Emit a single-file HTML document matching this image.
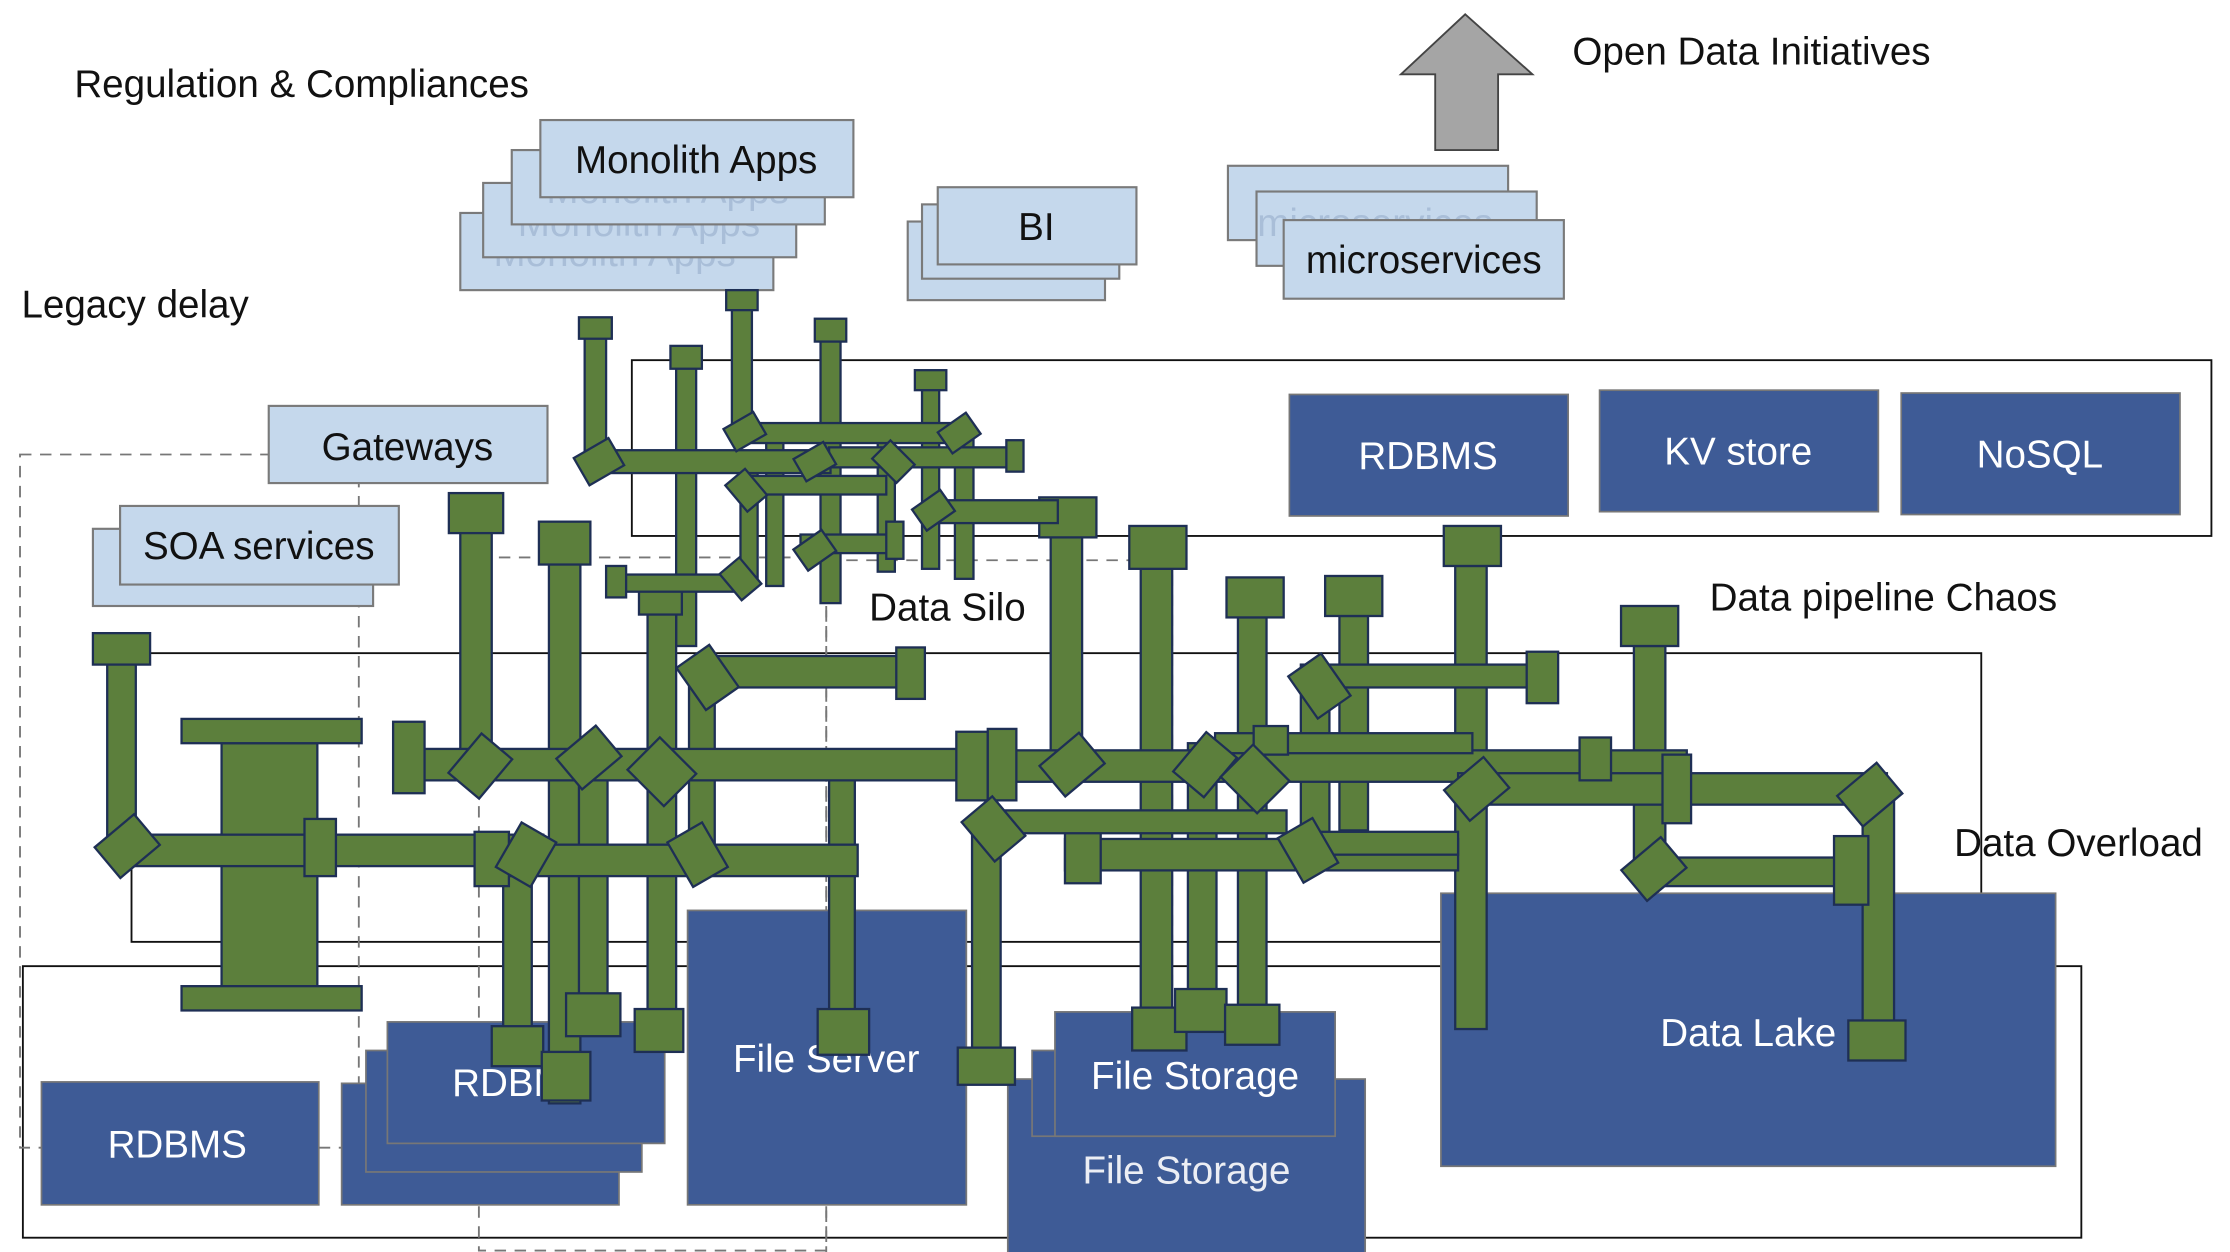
<!DOCTYPE html>
<html><head><meta charset="utf-8"><style>
html,body{margin:0;padding:0;background:#fff;}
svg{display:block;}
text{font-family:"Liberation Sans Narrow","Liberation Sans",sans-serif;}
.lb{fill:#c5d8ec;stroke:#7a7a7a;stroke-width:1.5;}
.db{fill:#3e5b96;stroke:#777;stroke-width:1.2;}
.g{fill:#5c7f3c;stroke:#1e2f55;stroke-width:1.6;}
.o{fill:none;stroke:#111;stroke-width:1.3;}
.d{fill:none;stroke:#777;stroke-width:1.3;stroke-dasharray:8 6;}
.t{font-size:27px;fill:#111;}
.w{font-size:27px;fill:#fff;}
.f{font-size:27px;fill:#8ea6c6;opacity:.5;}
</style></head><body>
<svg width="2230" height="1252" viewBox="0 0 1560 876" preserveAspectRatio="none" xmlns="http://www.w3.org/2000/svg">
<!-- labels -->
<text class="t" x="52" y="68">Regulation &amp; Compliances</text>
<text class="t" x="15" y="222">Legacy delay</text>
<text class="t" x="1100" y="45">Open Data Initiatives</text>
<!-- arrow -->
<polygon points="1025,10 1072,52 1048,52 1048,105 1004,105 1004,52 980,52" fill="#a5a5a5" stroke="#444" stroke-width="1.3"/>

<!-- outlined containers -->
<rect class="o" x="442" y="252" width="1105" height="123"/>
<rect class="o" x="92" y="457" width="1294" height="202"/>
<rect class="o" x="16" y="676" width="1440" height="190"/>
<rect class="d" x="14" y="318" width="237" height="485"/>
<rect class="d" x="335" y="390" width="243" height="485"/>
<rect class="d" x="578" y="392" width="242" height="485"/>

<!-- DB row -->
<rect class="db" x="902" y="276" width="195" height="85"/><text class="w" x="999" y="328" text-anchor="middle">RDBMS</text>
<rect class="db" x="1119" y="273" width="195" height="85"/><text class="w" x="1216" y="325" text-anchor="middle">KV store</text>
<rect class="db" x="1330" y="275" width="195" height="85"/><text class="w" x="1427" y="327" text-anchor="middle">NoSQL</text>

<!-- bottom DBs -->
<rect class="db" x="29" y="757" width="194" height="86"/><text class="w" x="124" y="810" text-anchor="middle">RDBMS</text>
<rect class="db" x="239" y="758" width="194" height="85"/>
<rect class="db" x="256" y="735" width="193" height="85"/>
<rect class="db" x="271" y="715" width="194" height="85"/><text class="w" x="365" y="767" text-anchor="middle">RDBMS</text>
<rect class="db" x="481" y="637" width="195" height="206"/><text class="w" x="578" y="750" text-anchor="middle">File Server</text>
<rect class="db" x="705" y="755" width="250" height="125"/><text class="w" x="830" y="828" text-anchor="middle" opacity=".9">File Storage</text>
<rect class="db" x="722" y="735" width="195" height="60"/>
<rect class="db" x="738" y="708" width="196" height="87"/><text class="w" x="836" y="762" text-anchor="middle">File Storage</text>
<rect class="db" x="1008" y="625" width="430" height="191"/><text class="w" x="1223" y="732" text-anchor="middle">Data Lake</text>

<!-- light blue app boxes -->
<rect class="lb" x="322" y="149" width="219" height="54"/><text class="f" x="430" y="186" text-anchor="middle">Monolith Apps</text>
<rect class="lb" x="338" y="128" width="219" height="52"/><text class="f" x="447" y="165" text-anchor="middle">Monolith Apps</text>
<rect class="lb" x="358" y="105" width="219" height="52"/><text class="f" x="467" y="142" text-anchor="middle">Monolith Apps</text>
<rect class="lb" x="378" y="84" width="219" height="54"/><text class="t" x="487" y="121" text-anchor="middle">Monolith Apps</text>
<rect class="lb" x="635" y="155" width="138" height="55"/>
<rect class="lb" x="645" y="143" width="138" height="52"/>
<rect class="lb" x="656" y="131" width="139" height="54"/><text class="t" x="725" y="168" text-anchor="middle">BI</text>
<rect class="lb" x="859" y="116" width="196" height="52"/>
<rect class="lb" x="879" y="134" width="196" height="52"/><text class="f" x="962" y="165" text-anchor="middle">microservices</text>
<rect class="lb" x="898" y="154" width="196" height="55"/><text class="t" x="996" y="191" text-anchor="middle">microservices</text>
<rect class="lb" x="188" y="284" width="195" height="54"/><text class="t" x="285" y="322" text-anchor="middle">Gateways</text>
<rect class="lb" x="65" y="370" width="196" height="54"/>
<rect class="lb" x="84" y="354" width="195" height="55"/><text class="t" x="181" y="391" text-anchor="middle">SOA services</text>

<!-- pipes: verticals -->
<g>
<rect class="g" x="409" y="232" width="15" height="92"/><rect class="g" x="405" y="222" width="23" height="15"/>
<rect class="g" x="473" y="252" width="14" height="200"/><rect class="g" x="469" y="242" width="22" height="16"/>
<rect class="g" x="512" y="212" width="14" height="90"/><rect class="g" x="508" y="203" width="22" height="14"/>
<rect class="g" x="574" y="232" width="14" height="190"/><rect class="g" x="570" y="223" width="22" height="16"/>
<rect class="g" x="645" y="268" width="12" height="130"/><rect class="g" x="640" y="259" width="22" height="14"/>
<rect class="g" x="536" y="300" width="12" height="110"/>
<rect class="g" x="614" y="300" width="12" height="100"/>
<rect class="g" x="518" y="330" width="12" height="80"/>
<rect class="g" x="668" y="300" width="13" height="105"/>
<rect class="g" x="322" y="370" width="22" height="170"/><rect class="g" x="314" y="345" width="38" height="28"/>
<rect class="g" x="384" y="392" width="22" height="380"/><rect class="g" x="377" y="365" width="36" height="30"/>
<rect class="g" x="75" y="462" width="20" height="135"/><rect class="g" x="65" y="443" width="40" height="22"/>
<rect class="g" x="155" y="520" width="67" height="170"/>
<rect class="g" x="127" y="503" width="126" height="17"/><rect class="g" x="127" y="690" width="126" height="17"/>
<rect class="g" x="453" y="428" width="20" height="290"/><rect class="g" x="447" y="405" width="30" height="25"/>
<rect class="g" x="482" y="470" width="18" height="120"/>
<rect class="g" x="405" y="520" width="20" height="180"/><rect class="g" x="396" y="695" width="38" height="30"/>
<rect class="g" x="352" y="600" width="20" height="120"/><rect class="g" x="344" y="718" width="36" height="28"/>
<rect class="g" x="379" y="736" width="34" height="34"/>
<rect class="g" x="444" y="706" width="34" height="30"/>
<rect class="g" x="580" y="530" width="18" height="180"/><rect class="g" x="572" y="706" width="36" height="32"/>
<rect class="g" x="680" y="570" width="20" height="165"/><rect class="g" x="670" y="733" width="40" height="26"/>
<rect class="g" x="735" y="375" width="22" height="165"/><rect class="g" x="727" y="348" width="40" height="28"/>
<rect class="g" x="798" y="398" width="22" height="310"/><rect class="g" x="790" y="368" width="40" height="30"/><rect class="g" x="792" y="705" width="38" height="30"/>
<rect class="g" x="831" y="520" width="20" height="175"/><rect class="g" x="822" y="692" width="36" height="30"/>
<rect class="g" x="866" y="432" width="20" height="272"/><rect class="g" x="858" y="404" width="40" height="28"/><rect class="g" x="857" y="703" width="38" height="28"/>
<rect class="g" x="937" y="431" width="20" height="150"/><rect class="g" x="927" y="403" width="40" height="28"/>
<rect class="g" x="910" y="470" width="20" height="135"/>
<rect class="g" x="1018" y="396" width="22" height="324"/><rect class="g" x="1010" y="368" width="40" height="28"/>
<rect class="g" x="1143" y="452" width="22" height="160"/><rect class="g" x="1134" y="424" width="40" height="28"/>
<rect class="g" x="1303" y="560" width="22" height="160"/><rect class="g" x="1293" y="714" width="40" height="28"/>
</g>
<!-- pipes: horizontals -->
<g>
<rect class="g" x="416" y="315" width="165" height="16"/>
<rect class="g" x="519" y="296" width="152" height="14"/>
<rect class="g" x="520" y="333" width="100" height="13"/>
<rect class="g" x="580" y="313" width="130" height="14"/><rect class="g" x="704" y="308" width="12" height="22"/>
<rect class="g" x="650" y="350" width="90" height="16"/>
<rect class="g" x="430" y="402" width="90" height="12"/><rect class="g" x="424" y="396" width="14" height="22"/>
<rect class="g" x="560" y="374" width="70" height="13"/><rect class="g" x="620" y="365" width="12" height="26"/>
<rect class="g" x="490" y="459" width="140" height="22"/><rect class="g" x="627" y="453" width="20" height="36"/>
<rect class="g" x="285" y="524" width="405" height="22"/><rect class="g" x="275" y="505" width="22" height="50"/>
<rect class="g" x="85" y="584" width="295" height="22"/><rect class="g" x="213" y="573" width="22" height="40"/>
<rect class="g" x="340" y="591" width="260" height="22"/><rect class="g" x="332" y="582" width="24" height="38"/>
<rect class="g" x="690" y="525" width="490" height="22"/><rect class="g" x="669" y="512" width="22" height="48"/><rect class="g" x="691" y="510" width="20" height="50"/>
<rect class="g" x="1020" y="541" width="300" height="22"/><rect class="g" x="1163" y="528" width="20" height="48"/>
<rect class="g" x="745" y="587" width="275" height="22"/><rect class="g" x="745" y="582" width="25" height="36"/>
<rect class="g" x="910" y="465" width="160" height="16"/><rect class="g" x="1068" y="456" width="22" height="36"/>
<rect class="g" x="1160" y="600" width="140" height="20"/><rect class="g" x="1283" y="585" width="24" height="48"/>
<rect class="g" x="690" y="567" width="210" height="16"/>
<rect class="g" x="920" y="582" width="100" height="16"/>
<rect class="g" x="850" y="513" width="180" height="14"/><rect class="g" x="1105" y="516" width="22" height="30"/>
<rect class="g" x="877" y="508" width="24" height="20"/>
</g>
<!-- rotated joints -->
<g>
<rect class="g" x="-14" y="-11" width="28" height="22" transform="translate(419,323) rotate(-30)"/>
<rect class="g" x="-12" y="-9" width="24" height="18" transform="translate(521,302) rotate(-30)"/>
<rect class="g" x="-12" y="-9" width="24" height="18" transform="translate(570,323) rotate(-30)"/>
<rect class="g" x="-12" y="-9" width="24" height="18" transform="translate(625,323) rotate(45)"/>
<rect class="g" x="-12" y="-9" width="24" height="18" transform="translate(671,303) rotate(-35)"/>
<rect class="g" x="-12" y="-9" width="24" height="18" transform="translate(522,343) rotate(50)"/>
<rect class="g" x="-12" y="-9" width="24" height="18" transform="translate(653,357) rotate(-35)"/>
<rect class="g" x="-12" y="-9" width="24" height="18" transform="translate(518,405) rotate(50)"/>
<rect class="g" x="-12" y="-9" width="24" height="18" transform="translate(570,385) rotate(-35)"/>
<rect class="g" x="-18" y="-14" width="36" height="28" transform="translate(89,592) rotate(-40)"/>
<rect class="g" x="-18" y="-14" width="36" height="28" transform="translate(336,536) rotate(-50)"/>
<rect class="g" x="-18" y="-14" width="36" height="28" transform="translate(412,530) rotate(-40)"/>
<rect class="g" x="-18" y="-16" width="36" height="32" transform="translate(463,540) rotate(45)"/>
<rect class="g" x="-18" y="-14" width="36" height="28" transform="translate(495,474) rotate(55)"/>
<rect class="g" x="-18" y="-14" width="36" height="28" transform="translate(488,598) rotate(60)"/>
<rect class="g" x="-18" y="-14" width="36" height="28" transform="translate(368,598) rotate(-60)"/>
<rect class="g" x="-18" y="-14" width="36" height="28" transform="translate(750,535) rotate(-40)"/>
<rect class="g" x="-18" y="-14" width="36" height="28" transform="translate(695,580) rotate(50)"/>
<rect class="g" x="-18" y="-14" width="36" height="28" transform="translate(843,535) rotate(-50)"/>
<rect class="g" x="-18" y="-16" width="36" height="32" transform="translate(878,545) rotate(45)"/>
<rect class="g" x="-18" y="-14" width="36" height="28" transform="translate(923,480) rotate(55)"/>
<rect class="g" x="-18" y="-14" width="36" height="28" transform="translate(915,595) rotate(60)"/>
<rect class="g" x="-18" y="-14" width="36" height="28" transform="translate(1033,552) rotate(-40)"/>
<rect class="g" x="-18" y="-14" width="36" height="28" transform="translate(1157,608) rotate(-40)"/>
<rect class="g" x="-18" y="-14" width="36" height="28" transform="translate(1308,556) rotate(-40)"/>
</g>

<text class="t" x="608" y="434">Data Silo</text>
<text class="t" x="1196" y="427">Data pipeline Chaos</text>
<text class="t" x="1367" y="599">Data Overload</text>
</svg>
</body></html>
